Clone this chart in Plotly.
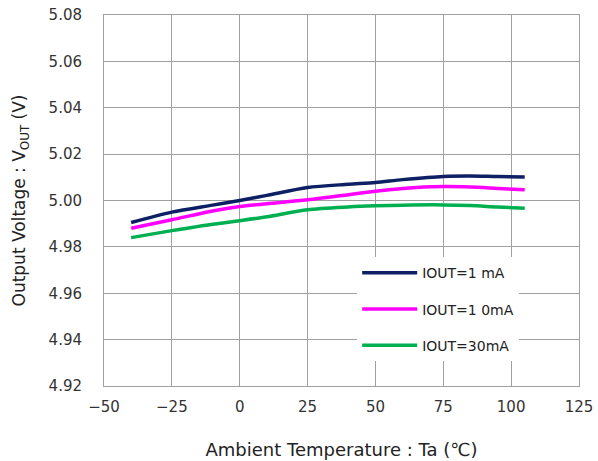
import plotly.graph_objects as go

temps = [-40, -25, -10, 0, 10, 25, 40, 50, 60, 75, 85, 95, 105]
v_1ma = [4.9905, 4.9950, 4.9980, 5.0000, 5.0022, 5.0056, 5.0070, 5.0078, 5.0090, 5.0104, 5.0106, 5.0103, 5.0101]
v_10ma = [4.9880, 4.9917, 4.9955, 4.9974, 4.9986, 5.0003, 5.0025, 5.0040, 5.0052, 5.0060, 5.0058, 5.0052, 5.0046]
v_30ma = [4.9840, 4.9870, 4.9898, 4.9913, 4.9930, 4.9960, 4.9972, 4.9977, 4.9980, 4.9981, 4.9978, 4.9972, 4.9967]

series = [
    ("IOUT=1 mA", v_1ma, "#0D2063"),
    ("IOUT=1 0mA", v_10ma, "#FF00FF"),
    ("IOUT=30mA", v_30ma, "#00B050"),
]

font_family = "DejaVu Sans, sans-serif"

fig = go.Figure()
for i, (name, vals, color) in enumerate(series):
    fig.add_trace(go.Scatter(
        x=temps, y=vals, mode='lines', name=name, legendgroup=str(i),
        line=dict(color=color, width=3.5, shape='spline', smoothing=0.8)))

axis_style = dict(
    showgrid=True, gridcolor='#A0A0A0', gridwidth=1,
    showline=True, linecolor='#A0A0A0', linewidth=1, mirror=True,
    zeroline=False, ticks='', automargin=False,
    tickfont=dict(size=15, color='#333333', family=font_family))

fig.update_xaxes(range=[-50, 125], dtick=25, tick0=-50, ticklabelstandoff=7,
                 title=dict(text='Ambient Temperature : Ta (℃)', standoff=28,
                            font=dict(size=18, color='#222222', family=font_family)),
                 **axis_style)
fig.update_yaxes(range=[4.92, 5.08], dtick=0.02, tick0=4.92, tickformat='.2f',
                 ticklabelstandoff=18,
                 title=dict(text='Output Voltage : V<sub>OUT</sub> (V)', standoff=18,
                            font=dict(size=17, color='#222222', family=font_family)),
                 **axis_style)

fig.update_layout(
    width=598, height=461,
    margin={'l': 104, 'r': 19, 't': 15, 'b': 75},
    paper_bgcolor='white', plot_bgcolor='white',
    font=dict(family=font_family, size=14, color='#222222'),
    legend=dict(x=0.533, y=0.347, xanchor='left', yanchor='top',
                bgcolor='white', borderwidth=0, itemwidth=55,
                traceorder='grouped', tracegroupgap=15,
                font=dict(size=14, color='#222222', family=font_family)),
)

# drop the default 8px body margin so the figure sits at the page corner
fig.write_html("out.html", config={'displayModeBar': False},
               post_script="document.body.style.margin='0';")
